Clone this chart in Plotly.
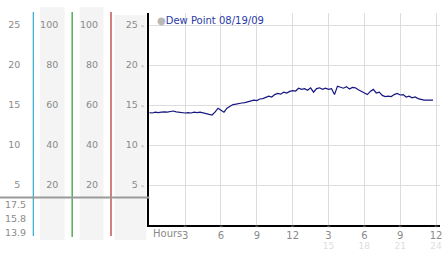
import plotly.graph_objects as go

W, H = 442, 253

# ---- data ----
hours = [i * 0.25 for i in range(96)]
dew_point = [
    14.05, 14.0, 14.1, 14.05, 14.1, 14.15, 14.1, 14.2,
    14.25, 14.15, 14.1, 14.05, 14.0, 14.05, 14.0, 14.1,
    14.05, 14.1, 14.0, 13.95, 13.85, 13.75, 14.1, 14.6,
    14.35, 14.1, 14.6, 14.8, 15.05, 15.1, 15.2, 15.25,
    15.3, 15.4, 15.45, 15.6, 15.55, 15.75, 15.8, 15.95,
    16.1, 16.0, 16.3, 16.45, 16.35, 16.6, 16.5, 16.7,
    16.8, 16.75, 17.1, 16.95, 17.05, 16.85, 17.15, 16.6,
    17.05, 17.15, 16.95, 17.1, 16.95, 17.05, 16.3, 17.35,
    17.2, 17.1, 17.3, 17.0, 17.2, 17.15, 16.9, 16.7,
    16.4, 16.3, 16.7, 16.95, 16.5, 16.6, 16.2, 16.05,
    16.1, 16.05, 16.3, 16.45, 16.25, 16.3, 16.0, 16.1,
    15.9, 16.0, 15.8, 15.7, 15.6, 15.6, 15.6, 15.6,
]
series_name = "Dew Point 08/19/09"
y_ticks = [5, 10, 15, 20, 25]
pct_ticks = [20, 40, 60, 80, 100]
x_ticks = [3, 6, 9, 12, 15, 18, 21, 24]
x_tick_labels = ["3", "6", "9", "12", "3", "6", "9", "12"]
x_sub_ticks = [15, 18, 21, 24]
x_sub_labels = ["15", "18", "21", "24"]
summary_values = ["17.5", "15.8", "13.9"]

def px(p):
    return p / W

def py(p):
    return 1 - p / H

GRAY = "#8a8a8a"
FONT = "DejaVu Sans"
Y_RANGE = [0, 26.5]
X_RANGE = [0, 292 / 12]
ydom = [py(225), py(13)]

fig = go.Figure()
fig.add_trace(go.Scatter(x=hours, y=dew_point, mode="lines",
                         line=dict(color="#161682", width=1.2),
                         showlegend=False, hoverinfo="skip"))

mark = "<span style='font-size:6px;color:#a0a0a0'>»</span>"
fig.update_layout(
    width=W, height=H,
    margin=dict(l=0, r=0, t=0, b=0),
    paper_bgcolor="white", plot_bgcolor="white",
    font=dict(family=FONT, size=9.5, color=GRAY),
    xaxis=dict(domain=[px(150), 1], range=X_RANGE,
               tickvals=x_ticks, ticktext=x_tick_labels,
               tickfont=dict(size=10, color=GRAY),
               showgrid=True, gridcolor="#dcdcdc", gridwidth=1,
               showline=True, linecolor="black", linewidth=2,
               ticks="", zeroline=False, ticklabelstandoff=0,
               ticklabeloverflow="allow"),
    xaxis2=dict(overlaying="x", anchor="y", side="bottom", range=X_RANGE,
                tickvals=x_ticks, ticktext=["≈"] * len(x_ticks),
                tickfont=dict(size=5, color="#999999"),
                showgrid=False, showline=False, zeroline=False, ticks="",
                ticklabelstandoff=-3, ticklabeloverflow="allow"),
    xaxis3=dict(overlaying="x", anchor="y", side="bottom", range=X_RANGE,
                tickvals=x_sub_ticks, ticktext=x_sub_labels,
                tickfont=dict(size=9, color="#dedede"),
                showgrid=False, showline=False, zeroline=False, ticks="",
                ticklabelstandoff=14, ticklabeloverflow="allow"),
    yaxis=dict(domain=ydom, range=Y_RANGE,
               tickvals=y_ticks, ticktext=[f"{v} {mark}" for v in y_ticks],
               showgrid=True, gridcolor="#dcdcdc", gridwidth=1,
               showline=True, linecolor="black", linewidth=2,
               ticks="", zeroline=False, ticklabelstandoff=1),
    yaxis2=dict(overlaying="y", anchor="free", position=px(20.5), side="left",
                range=Y_RANGE, tickvals=y_ticks,
                showgrid=False, showline=False, zeroline=False, ticks=""),
    yaxis3=dict(overlaying="y", anchor="free", position=px(58.5), side="left",
                range=[v * 4 for v in Y_RANGE], tickvals=pct_ticks,
                showgrid=False, showline=False, zeroline=False, ticks=""),
    yaxis4=dict(overlaying="y", anchor="free", position=px(98.5), side="left",
                range=[v * 4 for v in Y_RANGE], tickvals=pct_ticks,
                showgrid=False, showline=False, zeroline=False, ticks=""),
)

# invisible traces to activate the extra axes
fig.add_trace(go.Scatter(x=[None], y=[None], xaxis="x2", yaxis="y", showlegend=False))
fig.add_trace(go.Scatter(x=[None], y=[None], xaxis="x3", yaxis="y", showlegend=False))
fig.add_trace(go.Scatter(x=[None], y=[None], xaxis="x", yaxis="y2", showlegend=False))
fig.add_trace(go.Scatter(x=[None], y=[None], xaxis="x", yaxis="y3", showlegend=False))
fig.add_trace(go.Scatter(x=[None], y=[None], xaxis="x", yaxis="y4", showlegend=False))

# panel backgrounds
for x0, x1, y0, y1 in [(40, 65, 7, 240), (80, 104, 7, 240), (115, 147, 15, 240)]:
    fig.add_shape(type="rect", xref="paper", yref="paper",
                  x0=px(x0), x1=px(x1), y0=py(y1), y1=py(y0),
                  fillcolor="#f4f4f4", line=dict(width=0), layer="below")
# colored separators
for x, c, yb in [(33.5, "#3fb0d0", 236), (72.5, "#3aa33a", 237), (111.5, "#b83a3a", 236)]:
    fig.add_shape(type="line", xref="paper", yref="paper",
                  x0=px(x), x1=px(x), y0=py(yb), y1=py(12),
                  line=dict(color=c, width=1.3))
# gray horizontal divider
fig.add_shape(type="line", xref="paper", yref="paper",
              x0=0, x1=px(150), y0=py(197.5), y1=py(197.5),
              line=dict(color="#9a9a9a", width=2))

# summary values
for v, yc in zip(summary_values, [204, 218, 232]):
    fig.add_annotation(text=v, xref="paper", yref="paper", x=px(28), y=py(yc),
                       xanchor="right", yanchor="middle", showarrow=False,
                       font=dict(size=9.5, color=GRAY, family=FONT))
# Hours label
fig.add_annotation(text="Hours", xref="paper", yref="paper", x=px(152), y=py(233),
                   xanchor="left", yanchor="middle", showarrow=False,
                   font=dict(size=10, color=GRAY, family=FONT))
# legend
fig.add_annotation(text="<span style='color:#b8b8b8'>●</span>" + series_name,
                   xref="paper", yref="paper", x=px(156), y=py(21),
                   xanchor="left", yanchor="middle", showarrow=False,
                   font=dict(size=10, color="#2a3aa8", family=FONT))

fig.write_html("out.html")
